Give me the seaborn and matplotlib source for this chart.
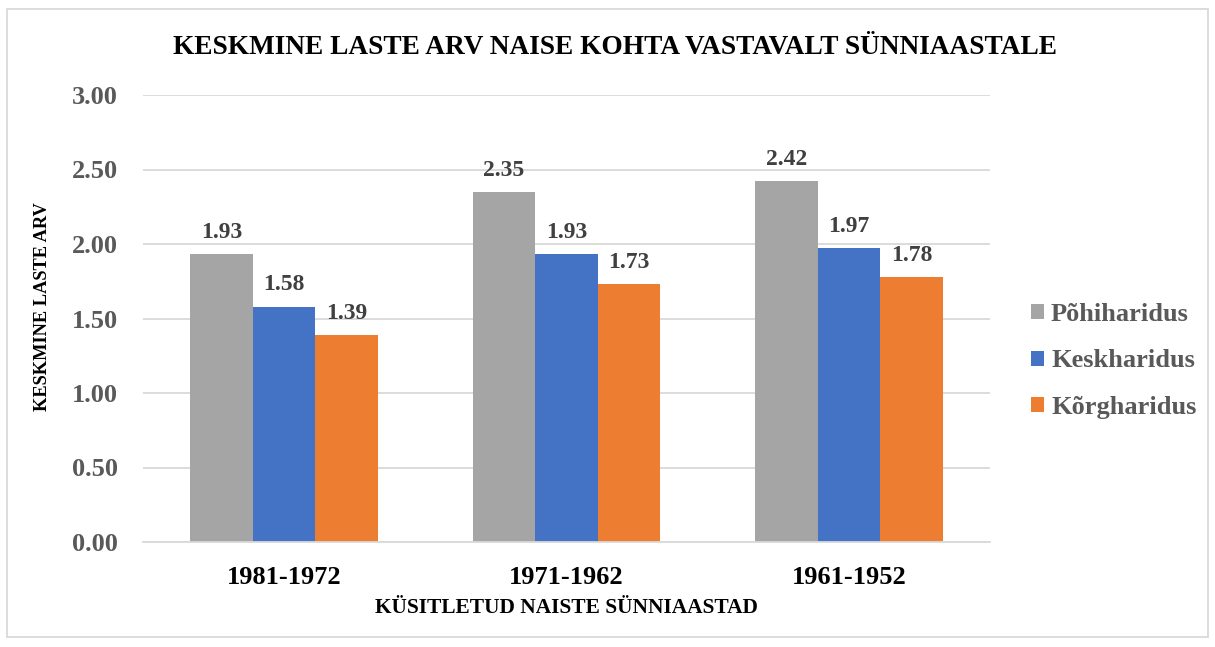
import matplotlib
matplotlib.use("Agg")
import matplotlib.pyplot as plt
import seaborn as sns
import pandas as pd
from matplotlib.patches import Rectangle

categories = ["1981-1972", "1971-1962", "1961-1952"]
series_names = ["Põhiharidus", "Keskharidus", "Kõrgharidus"]
pohi = [1.93, 2.35, 2.42]
kesk = [1.58, 1.93, 1.97]
korg = [1.39, 1.73, 1.78]
yticks = [0.0, 0.5, 1.0, 1.5, 2.0, 2.5, 3.0]
colors = ["#A5A5A5", "#4472C4", "#ED7D31"]

rows = []
for name, vals in zip(series_names, [pohi, kesk, korg]):
    for c, v in zip(categories, vals):
        rows.append({"cat": c, "series": name, "value": v})
df = pd.DataFrame(rows)

sns.set_theme(style="white")
plt.rcParams["font.family"] = ["Liberation Serif", "DejaVu Serif"]
plt.rcParams["font.weight"] = "bold"

fig = plt.figure(figsize=(12.15, 6.47), dpi=100)
ax = fig.add_axes([143/1215, 1-542/647, (990-143)/1215, (542-95)/647])

sns.barplot(data=df, x="cat", y="value", hue="series", palette=colors,
            width=0.665, saturation=1, ax=ax, legend=True, edgecolor="none")

for cont in ax.containers:
    ax.bar_label(cont, fmt="%.2f", padding=8, fontsize=17, fontweight="bold", color="#404040")

ax.set_ylim(0, 3.0)
ax.set_xlim(-0.5, 2.5)
ax.set_yticks(yticks)
ax.set_yticklabels([f"{t:.2f}" for t in yticks], fontsize=19, fontweight="bold", color="#595959")
ax.set_xticks(range(len(categories)))
ax.set_xticklabels(categories, fontsize=19, fontweight="bold", color="black")
ax.tick_params(axis="both", length=0)
ax.tick_params(axis="y", pad=18)
ax.tick_params(axis="x", pad=17)
ax.yaxis.grid(True, color="#D9D9D9", linewidth=1.3)
ax.set_axisbelow(True)
for s in ["top", "right", "left"]:
    ax.spines[s].set_visible(False)
ax.spines["bottom"].set_color("#D9D9D9")
ax.spines["bottom"].set_linewidth(1.3)

ax.set_xlabel("KÜSITLETUD NAISTE SÜNNIAASTAD", fontsize=15.4, fontweight="bold", color="black", labelpad=7)
ax.set_ylabel("KESKMINE LASTE ARV", fontsize=13.2, fontweight="bold", color="black")
ax.yaxis.set_label_coords((51-143)/847, (542-306.5)/447)

fig.text(615/1215, 1-47/647, "KESKMINE LASTE ARV NAISE KOHTA VASTAVALT SÜNNIAASTALE",
         ha="center", va="center", fontsize=19.7, fontweight="bold", color="black")

leg = ax.legend(loc="center left", bbox_to_anchor=(1.02, 0.405), frameon=False,
                handlelength=0.5, handleheight=0.5, labelspacing=0.9,
                handletextpad=0.27, prop={"weight": "bold", "size": 19})
for t in leg.get_texts():
    t.set_color("#595959")

fig.patches.append(Rectangle((7/1215, 1-637/647), (1208-7)/1215, (637-9)/647,
                             transform=fig.transFigure, fill=False,
                             edgecolor="#D9D9D9", linewidth=1.3))

fig.savefig("out.png", dpi=100)
